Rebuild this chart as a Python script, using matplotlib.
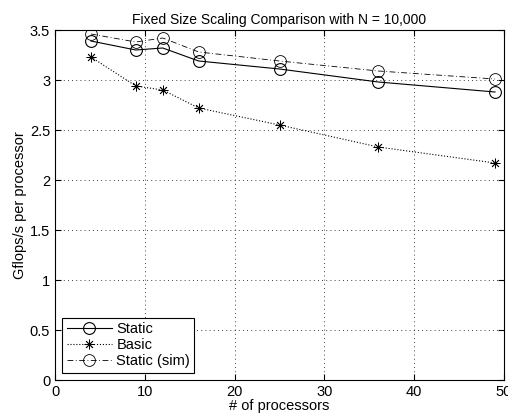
import matplotlib
matplotlib.use('Agg')
import matplotlib.pyplot as plt

# datos
procs = [4, 9, 12, 16, 25, 36, 49]
static = [3.39, 3.30, 3.32, 3.19, 3.11, 2.98, 2.88]
basic = [3.23, 2.94, 2.90, 2.72, 2.55, 2.33, 2.17]
static_sim = [3.46, 3.38, 3.42, 3.28, 3.19, 3.09, 3.01]

plt.rcParams['font.family'] = ['Liberation Sans', 'DejaVu Sans']
plt.rcParams['font.size'] = 10

fig = plt.figure(figsize=(5.08, 4.17), dpi=100)
ax = fig.add_axes([55 / 508, 37 / 417, 449 / 508, 350 / 417])

ax.plot(procs, static, '-', color='black', lw=0.8, marker='o', ms=8.5,
        mfc='none', mec='black', mew=0.8, label='Static')
ax.plot(procs, basic, ':', color='black', lw=0.8, marker=(8, 2, 0), ms=7,
        mfc='none', mec='black', mew=0.6, label='Basic')
ax.plot(procs, static_sim, color='black', lw=0.6, marker='o', ms=8.5,
        mfc='none', mec='black', mew=0.6, label='Static (sim)',
        dashes=(7, 3, 1, 3))

ax.set_xlim(0, 50)
ax.set_ylim(0, 3.5)
ax.set_xticks([0, 10, 20, 30, 40, 50])
ax.set_yticks([0, 0.5, 1, 1.5, 2, 2.5, 3, 3.5])
ax.set_yticklabels(['0', '0.5', '1', '1.5', '2', '2.5', '3', '3.5'])
ax.tick_params(direction='in', top=True, right=True, length=4, width=0.8,
               labelsize=10.5)
ax.grid(True, linestyle=(0, (1, 4)), color='black', lw=0.6)
for s in ax.spines.values():
    s.set_linewidth(0.8)

ax.set_title('Fixed Size Scaling Comparison with N = 10,000', fontsize=10, pad=4)
ax.set_xlabel('# of processors', labelpad=0, fontsize=10.5)
ax.set_ylabel('Gflops/s per processor', labelpad=2, fontsize=10.5)

leg = ax.legend(loc='lower left', fancybox=False, edgecolor='black',
                framealpha=1, borderaxespad=0.5, handlelength=3.1,
                handletextpad=0.3, labelspacing=0.15, borderpad=0.3,
                fontsize=10.5)
leg.get_frame().set_linewidth(0.8)

fig.savefig('out.png', dpi=100)
